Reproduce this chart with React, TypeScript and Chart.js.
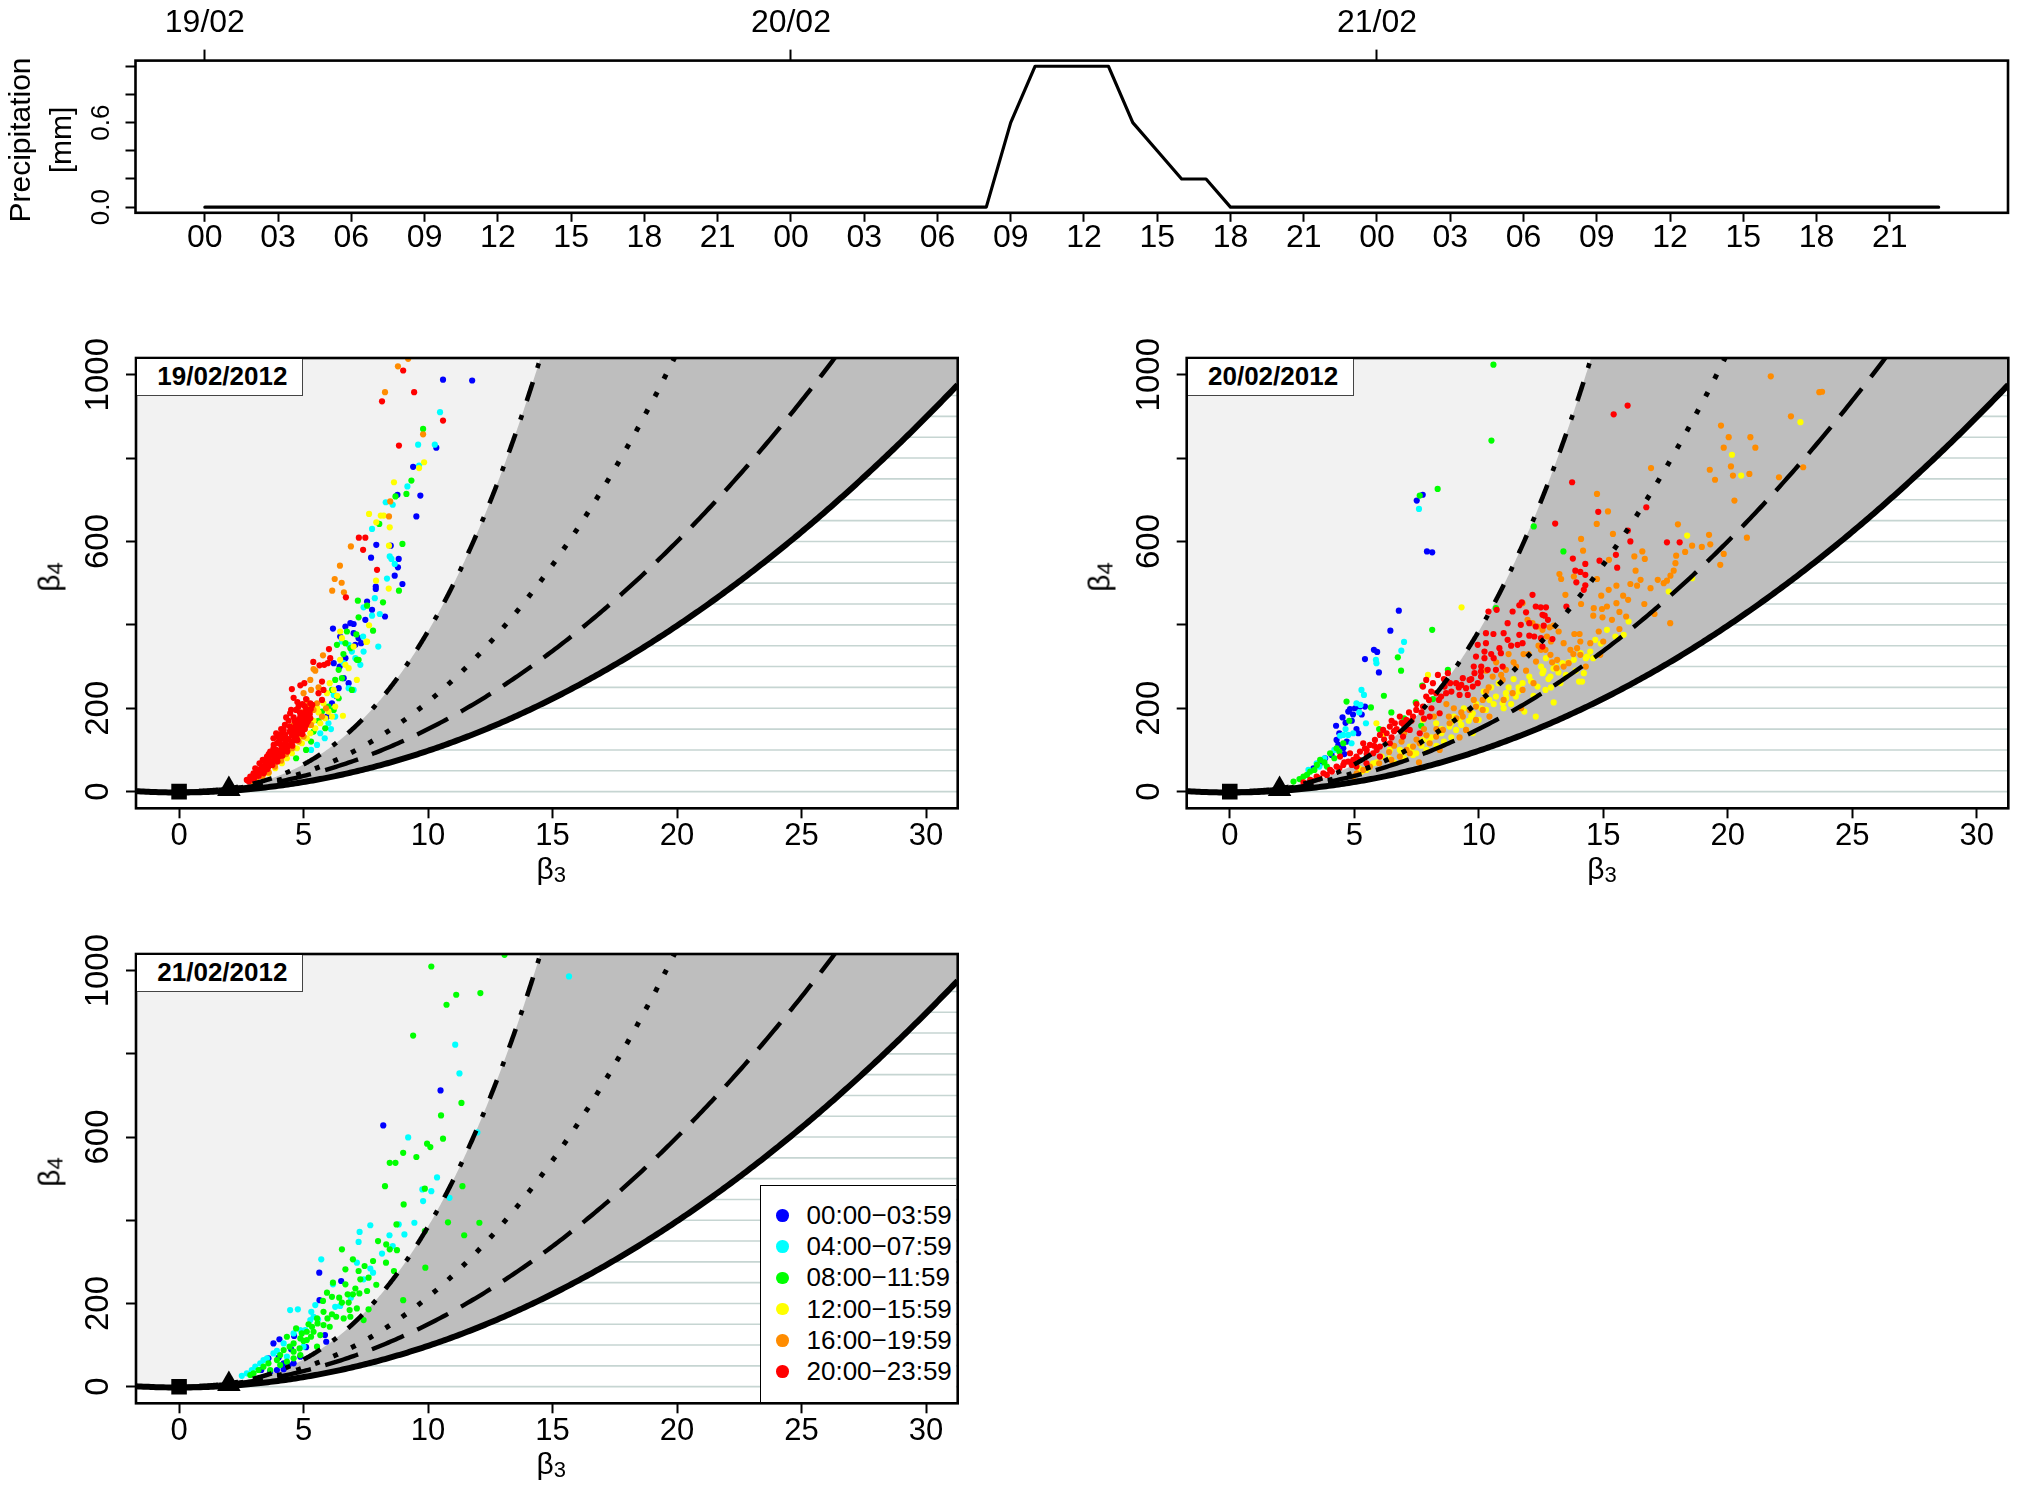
import React, { useEffect, useRef } from 'react';
import { Chart, registerables } from 'chart.js';

Chart.register(...registerables);

const FONT = "'Liberation Sans', Arial, Helvetica, sans-serif";

// ---------------- precipitation (hourly, from 19/02 00:00) ----------------
const precipHours = [
  0, 1, 2, 3, 4, 5, 6, 7, 8, 9, 10, 11, 12, 13, 14, 15, 16, 17, 18, 19, 20, 21, 22, 23,
  24, 25, 26, 27, 28, 29, 30, 31, 32, 33, 34, 35, 36, 37, 38, 39, 40, 41, 42, 43, 44, 45, 46, 47,
  48, 49, 50, 51, 52, 53, 54, 55, 56, 57, 58, 59, 60, 61, 62, 63, 64, 65, 66, 67, 68, 69, 70, 71,
];
const precipMm = [
  0, 0, 0, 0, 0, 0, 0, 0, 0, 0, 0, 0, 0, 0, 0, 0, 0, 0, 0, 0, 0, 0, 0, 0,
  0, 0, 0, 0, 0, 0, 0, 0, 0, 0.6, 1.0, 1.0, 1.0, 1.0, 0.6, 0.4, 0.2, 0.2, 0, 0, 0, 0, 0, 0,
  0, 0, 0, 0, 0, 0, 0, 0, 0, 0, 0, 0, 0, 0, 0, 0, 0, 0, 0, 0, 0, 0, 0, 0,
];
const hourTicks = [0, 3, 6, 9, 12, 15, 18, 21, 24, 27, 30, 33, 36, 39, 42, 45, 48, 51, 54, 57, 60, 63, 66, 69];
const hourTickLabels = ['00', '03', '06', '09', '12', '15', '18', '21', '00', '03', '06', '09', '12', '15', '18', '21', '00', '03', '06', '09', '12', '15', '18', '21'];
const dayTicks = [0, 24, 48];
const dayTickLabels = ['19/02', '20/02', '21/02'];
const precipTicks = [0, 0.2, 0.4, 0.6, 0.8, 1.0];
const precipTickLabels = ['0.0', '', '', '0.6', '', ''];
const PRECIP_X_RANGE = [-2.84, 73.84];
const PRECIP_Y_RANGE = [-0.04, 1.04];

// ---------------- beta3 / beta4 diagrams ----------------
const BETA3_RANGE = [-1.73, 31.27];
const BETA4_RANGE = [-40, 1040];
const beta3Ticks = [0, 5, 10, 15, 20, 25, 30];
const beta3TickLabels = ['0', '5', '10', '15', '20', '25', '30'];
const beta4Ticks = [0, 200, 400, 600, 800, 1000];
const beta4TickLabels = ['0', '200', '', '600', '', '1000'];
const hatchLevels = [0, 50, 100, 150, 200, 250, 300, 350, 400, 450, 500, 550, 600, 650, 700, 750, 800, 850, 900, 950, 1000];
const normalPoint = [0, 0];
const exponentialPoint = [2, 6];

const timeClasses = ['00:00\u221203:59', '04:00\u221207:59', '08:00\u221211:59', '12:00\u221215:59', '16:00\u221219:59', '20:00\u221223:59'];
const classColors = ['#0000FF', '#00FFFF', '#00FF00', '#FFFF00', '#FF8C00', '#FF0000'];

// 19/02/2012 : pairs (beta3, beta4)
const p1Blue = [6.21,308, 6.45,300, 6.68,320, 6.81,260, 6.61,272, 6.41,248, 6.14,212, 6.47,372, 7.01,380, 7.21,368, 7.08,352, 6.88,404, 7.01,402, 6.68,396, 6.18,391, 7.31,356, 7.48,412, 7.75,436, 8.27,420, 7.55,456, 7.9,492, 7.9,486, 8.97,498, 8.66,518, 8.82,558, 8.79,538, 7.71,561, 7.92,592, 8.5,590, 9.53,660, 8.77,712, 9.69,710, 9.4,779, 10.33,825, 10.6,988, 11.77,986, 6.3,230, 5.95,180];
const p1Cyan = [6.54,360, 6.81,352, 6.94,336, 7.08,320, 6.61,308, 6.81,248, 6.21,232, 6.0,164, 5.67,140, 5.54,112, 6.27,180, 7.28,304, 7.41,336, 7.01,244, 7.39,372, 7.41,442, 7.75,422, 8.06,426, 7.86,464, 8.35,511, 8.66,546, 8.46,564, 8.53,558, 8.3,694, 8.58,688, 7.75,630, 9.17,732, 9.6,832, 10.27,832, 9.64,782, 10.48,910, 8.0,348, 5.85,128, 6.1,150, 5.3,100];
const p1Green = [6.34,352, 6.68,356, 6.88,344, 7.14,316, 6.41,292, 6.54,272, 6.27,268, 6.14,244, 6.0,204, 6.21,196, 5.74,192, 6.41,224, 7.21,316, 6.94,244, 5.4,144, 5.87,152, 6.74,384, 7.12,377, 7.79,386, 7.21,418, 7.18,458, 7.55,446, 8.19,454, 8.83,482, 8.04,642, 8.97,594, 8.69,708, 9.13,714, 9.33,746, 9.8,870, 5.3,120, 5.1,100, 4.7,80, 6.6,330, 5.6,170];
const p1Yellow = [6.54,368, 7.01,348, 7.55,360, 6.47,316, 6.68,304, 6.81,296, 7.14,268, 6.21,244, 5.94,236, 5.8,212, 6.0,192, 6.27,204, 6.14,180, 5.87,176, 5.67,164, 5.47,152, 5.27,140, 5.13,128, 4.93,116, 4.73,104, 4.53,92, 4.33,80, 4.13,68, 3.86,56, 3.59,44, 6.58,182, 6.47,384, 7.63,399, 7.52,359, 7.91,506, 8.42,487, 8.43,590, 8.46,634, 7.92,646, 8.1,662, 8.22,662, 7.63,666, 8.63,742, 9.64,776, 9.84,790, 6.05,260, 5.6,190, 5.4,170, 5.05,150, 6.35,230, 5.55,200, 5.2,160, 4.85,130];
const p1Orange = [5.4,196, 5.13,220, 5.54,212, 5.74,180, 5.3,160, 5.0,132, 4.8,120, 4.55,104, 4.3,90, 4.1,74, 3.85,60, 3.6,46, 3.35,36, 3.1,28, 2.95,24, 4.73,196, 5.0,236, 5.27,268, 5.4,294, 5.47,290, 5.78,327, 5.3,244, 6.15,482, 6.25,510, 6.53,501, 6.62,478, 6.46,542, 6.9,588, 8.43,660, 8.48,696, 9.8,857, 8.27,958, 8.79,1020, 9.2,1038, 5.6,250, 5.9,200, 4.95,190, 4.6,160, 5.2,205];
const p1Red = [2.72,28, 2.86,36, 2.99,32, 2.99,44, 3.12,40, 3.19,52, 3.32,48, 3.39,60, 3.46,68, 3.59,60, 3.59,76, 3.73,72, 3.79,84, 3.86,92, 3.93,80, 3.99,98, 4.06,88, 4.13,108, 4.2,98, 4.26,116, 4.33,104, 4.40,126, 4.46,112, 4.53,136, 4.6,122, 4.66,144, 4.71,132, 4.77,152, 4.84,140, 4.89,160, 4.93,148, 5.0,170, 5.07,158, 5.11,180, 5.16,167, 5.21,188, 5.27,176, 5.29,198, 5.35,208, 4.73,164, 4.57,152, 4.44,144, 4.26,136, 4.06,124, 3.93,116, 3.79,104, 3.66,96, 3.53,84, 3.36,76, 3.23,68, 3.06,56, 5.0,188, 4.87,180, 4.80,172, 4.66,156, 3.79,128, 4.2,148, 4.46,188, 4.80,204, 5.07,192, 5.27,212, 5.74,264, 5.80,244, 5.97,308, 6.07,320, 4.53,246, 4.87,255, 5.03,260, 5.39,311, 5.64,303, 5.83,304, 6.02,342, 5.74,220, 5.60,236, 7.22,609, 7.48,609, 7.39,580, 7.95,532, 6.7,466, 8.15,936, 9.0,1010, 9.44,958, 8.83,830, 10.6,890, 2.8,24, 3.05,36, 3.15,46, 3.3,56, 3.45,52, 3.5,72, 3.65,66, 3.7,86, 3.85,78, 3.9,100, 4.0,84, 4.1,112, 4.15,96, 4.3,126, 4.35,110, 4.5,120, 4.55,150, 4.65,130, 4.75,142, 4.85,164, 4.95,176, 5.05,150, 5.15,196, 5.2,172, 3.95,132, 4.1,138, 4.25,160, 4.4,170, 4.6,178, 4.7,196, 4.95,210, 5.1,222, 3.0,28, 3.2,38, 3.4,44, 3.55,54, 3.75,64, 3.95,72, 4.15,86, 4.35,96, 4.55,110, 4.75,124, 4.95,138, 5.1,160, 5.25,186, 3.6,90, 3.8,112, 4.0,120, 4.2,128, 4.45,156, 4.65,168, 4.85,190, 5.05,205, 4.3,178, 4.5,196, 4.75,215, 4.6,225, 4.1,150, 3.9,140];

// 20/02/2012
const p2Blue = [7.75,712, 7.51,698, 7.92,576, 8.13,574, 6.79,434, 6.45,386, 5.79,340, 5.92,335, 5.43,318, 5.99,286, 4.27,158, 4.53,178, 4.76,192, 4.83,198, 5.03,200, 5.23,204, 5.43,204, 5.09,150, 5.16,140, 4.29,124, 4.36,112, 4.56,104, 4.09,88, 3.83,80, 3.63,68, 3.36,56, 4.7,120, 4.6,90, 4.9,170, 4.4,140, 4.95,185, 4.65,165, 5.3,185];
const p2Cyan = [7.6,678, 7.0,359, 6.89,338, 5.87,316, 5.89,308, 5.29,244, 5.39,232, 5.25,208, 5.09,212, 5.47,164, 4.96,140, 4.76,136, 4.56,136, 4.43,134, 4.89,116, 3.49,68, 3.16,52, 4.65,150, 3.8,80, 5.2,190, 4.2,100, 3.6,60];
const p2Green = [10.59,1024, 10.51,842, 8.35,726, 7.63,710, 8.13,388, 6.75,322, 6.88,290, 6.19,230, 5.67,202, 4.69,216, 4.8,170, 7.73,254, 8.16,222, 7.47,214, 7.69,158, 8.76,292, 12.21,636, 13.4,576, 2.56,24, 2.96,36, 3.23,48, 3.63,76, 4.03,92, 4.29,104, 4.56,116, 3.8,70, 3.4,52, 3.1,40, 6.49,190, 10.69,440, 4.2,80, 3.9,60, 2.8,30, 3.5,64, 4.4,96, 7.0,176, 6.0,150];
const p2Yellow = [9.31,442, 5.49,52, 5.76,68, 6.1,84, 6.43,100, 6.83,100, 7.23,108, 7.49,92, 7.76,124, 8.0,120, 8.29,164, 8.5,140, 8.83,156, 9.09,148, 9.23,172, 9.5,148, 9.76,188, 10.0,172, 10.29,196, 10.43,220, 10.69,228, 10.96,212, 11.09,236, 11.2,250, 11.49,228, 11.76,260, 11.83,192, 12.03,276, 12.29,180, 12.36,252, 12.56,284, 12.8,270, 13.09,300, 13.36,308, 13.6,310, 14.03,264, 14.09,332, 14.3,320, 7.96,280, 7.36,88, 5.3,48, 6.16,136, 5.89,164, 7.76,172, 9.76,140, 12.88,276, 12.68,244, 13.01,214, 13.28,260, 13.82,316, 14.15,264, 14.22,284, 14.35,324, 14.48,336, 14.68,364, 14.9,355, 15.15,388, 15.49,372, 15.82,376, 16.02,408, 17.63,480, 18.37,614, 20.17,808, 20.54,758, 22.92,886, 18.57,512, 10.5,250, 11.0,200, 11.6,240, 12.2,230, 12.9,250, 13.2,286, 13.9,290, 14.6,320, 9.9,210, 10.8,260, 9.0,180, 8.6,120, 6.6,70, 7.0,80, 7.9,100, 8.3,110, 11.4,270, 12.5,300, 9.4,200, 10.2,240, 11.3,210, 12.7,320, 13.5,280, 8.9,130, 9.6,170, 6.9,90, 7.3,96, 7.7,110, 8.1,130, 8.5,150, 8.9,165, 9.3,160, 9.7,180, 10.1,200, 10.6,210, 11.1,225, 11.6,250, 12.1,265, 12.6,290, 13.0,295, 6.4,80, 5.9,70, 5.6,58, 5.2,56];
const p2Orange = [11.76,452, 11.96,412, 12.16,404, 12.36,396, 12.56,388, 11.76,244, 11.36,236, 11.09,292, 10.96,268, 10.56,276, 10.3,240, 10.16,220, 9.89,204, 9.63,196, 9.36,180, 9.1,176, 8.83,164, 8.56,148, 8.29,132, 8.03,116, 7.63,116, 7.36,108, 7.23,92, 6.83,84, 6.49,76, 6.0,68, 5.63,60, 5.36,52, 5.1,44, 4.96,36, 9.49,148, 9.89,172, 10.43,180, 10.16,196, 9.23,130, 8.43,100, 7.6,70, 12.0,330, 12.3,312, 11.9,290, 12.5,340, 11.5,300, 10.7,310, 10.3,290, 11.2,330, 9.0,200, 8.7,210, 8.2,180, 7.8,150, 7.0,140, 6.6,110, 11.7,200, 12.2,260, 11.0,220, 21.73,996, 23.68,958, 23.79,959, 22.54,900, 19.73,878, 20.04,850, 20.91,850, 19.84,825, 21.11,825, 16.92,776, 19.28,772, 20.13,780, 20.21,758, 20.87,762, 19.49,748, 22.06,754, 23.03,778, 20.27,698, 14.75,714, 15.19,672, 14.74,642, 18.0,641, 15.39,618, 14.11,606, 14.19,578, 19.25,616, 19.3,593, 18.96,587, 18.57,590, 18.29,575, 20.77,609, 19.84,570, 19.7,544, 16.57,576, 16.67,558, 16.25,564, 15.23,556, 17.93,566, 17.9,548, 17.83,530, 17.7,518, 17.56,506, 17.43,500, 17.19,508, 16.9,488, 16.5,508, 16.36,494, 16.09,498, 15.53,494, 15.22,484, 14.92,470, 14.75,510, 13.48,472, 13.82,516, 13.24,522, 13.31,510, 14.11,450, 14.62,440, 14.95,438, 15.15,444, 15.53,452, 15.65,431, 15.92,420, 15.35,412, 14.97,418, 14.6,422, 14.82,384, 15.65,390, 17.06,426, 16.65,450, 17.69,404, 13.84,378, 14.05,378, 14.08,360, 14.48,356, 13.95,344, 13.68,340, 13.41,356, 13.21,384, 13.01,398, 12.85,394, 12.74,372, 12.68,340, 12.88,328, 13.15,316, 12.95,310, 13.41,300, 13.61,308, 14.08,328, 14.88,328, 13.12,296, 13.8,330, 14.3,300, 15.0,360, 16.0,460, 16.3,530, 15.8,470, 7.1,100, 7.5,125, 7.9,135, 8.3,150, 8.8,180, 9.3,190, 9.8,220, 10.4,250, 10.9,280, 11.4,310, 11.8,330, 12.4,350, 12.9,360, 6.9,120, 6.4,95];
const p2Red = [12.16,472, 11.63,447, 11.73,454, 12.29,444, 12.49,442, 12.56,424, 11.36,432, 11.16,404, 11.69,400, 12.03,404, 12.29,396, 12.23,372, 12.03,374, 11.63,376, 11.76,356, 11.56,352, 12.56,348, 12.5,368, 11.16,364, 10.83,344, 10.72,436, 10.39,432, 10.59,378, 10.29,356, 9.96,352, 10.23,336, 9.89,324, 10.23,320, 10.89,332, 10.96,300, 10.69,292, 10.36,292, 10.09,288, 9.83,284, 9.63,268, 9.36,272, 9.09,260, 8.85,260, 8.63,252, 8.76,284, 8.36,280, 9.49,248, 9.76,252, 9.96,260, 10.09,276, 9.56,232, 9.23,232, 8.69,236, 8.49,228, 8.29,236, 8.09,240, 7.89,228, 7.76,204, 7.49,196, 7.36,180, 7.09,172, 6.83,180, 6.63,164, 6.43,156, 6.16,148, 6.03,136, 5.83,124, 5.63,112, 5.43,104, 5.23,96, 5.09,84, 4.96,76, 4.76,72, 4.56,64, 4.29,60, 4.03,52, 3.76,44, 3.49,36, 3.23,28, 2.96,22, 7.23,148, 8.03,180, 8.43,188, 7.63,140, 6.96,132, 6.43,116, 6.03,108, 5.76,92, 5.36,116, 4.83,92, 4.43,84, 5.09,60, 5.49,68, 6.03,84, 7.76,252, 7.89,268, 8.16,260, 10.29,380, 6.3,140, 6.7,150, 7.0,160, 7.2,190, 6.5,170, 7.5,210, 8.0,220, 8.6,270, 9.2,250, 9.8,300, 10.5,330, 11.0,380, 11.9,430, 5.9,100, 5.5,90, 5.2,76, 4.9,64, 15.42,905, 15.98,926, 13.75,742, 13.07,643, 14.8,671, 15.99,626, 16.09,600, 17.56,598, 18.07,598, 13.78,559, 14.85,554, 15.51,568, 15.56,537, 14.28,546, 13.88,530, 14.08,527, 14.28,520, 13.92,502, 14.28,495, 14.22,484, 13.52,444, 12.7,442, 12.65,422, 12.78,412, 12.61,398, 12.96,366, 16.73,682, 5.5,100, 5.8,110, 6.2,125, 6.6,145, 6.9,165, 7.3,170, 7.7,190, 8.1,200, 8.4,220, 8.9,240, 9.3,256, 9.7,270, 10.1,300, 10.6,320, 11.3,350, 4.6,70, 4.4,56, 4.1,48, 3.9,40, 3.6,32, 3.3,26, 6.5,130, 7.1,150, 7.8,175];

// 21/02/2012
const p3Blue = [10.5,712, 8.2,628, 5.63,274, 6.51,254, 5.64,208, 5.86,124, 5.91,108, 3.79,104, 4.03,114, 4.62,122, 3.59,68, 4.2,56, 4.4,52, 4.6,56, 4.87,72, 4.2,42, 3.93,40, 3.66,36, 4.5,90, 4.0,70, 3.3,40, 5.1,95];
const p3Cyan = [11.09,822, 11.26,753, 9.2,599, 11.98,611, 10.36,503, 10.13,470, 9.77,474, 9.8,446, 10.86,454, 9.05,366, 9.45,394, 8.82,390, 7.25,372, 7.68,388, 8.45,364, 7.21,348, 8.15,320, 8.58,338, 7.14,298, 7.68,284, 7.79,274, 7.41,258, 5.71,306, 6.18,246, 6.9,214, 6.47,194, 6.27,192, 5.47,196, 5.31,180, 5.4,168, 5.58,162, 5.27,160, 4.46,184, 4.77,186, 5.07,136, 4.87,136, 4.6,128, 4.2,104, 3.93,86, 3.79,80, 3.53,68, 3.39,64, 3.26,56, 3.06,48, 2.92,40, 2.72,32, 2.52,26, 4.33,72, 5.0,96, 15.66,986];
const p3Green = [10.13,1010, 11.13,942, 10.74,918, 12.1,946, 9.4,844, 11.34,682, 10.52,652, 10.6,596, 9.96,584, 10.09,576, 9.0,562, 9.53,552, 8.46,538, 8.69,538, 8.27,482, 9.87,476, 11.38,482, 9.02,438, 10.8,395, 12.06,394, 8.73,390, 9.87,374, 11.45,364, 7.99,350, 8.32,342, 8.46,330, 8.75,328, 6.54,330, 6.98,306, 7.79,302, 8.31,298, 6.68,282, 7.45,290, 7.21,278, 7.28,258, 7.61,262, 8.63,278, 9.89,286, 7.92,245, 6.18,250, 6.68,246, 7.08,236, 7.55,230, 7.24,224, 5.94,226, 6.14,216, 6.43,214, 6.77,222, 6.98,222, 6.54,202, 6.81,202, 5.78,206, 9.0,208, 7.61,186, 6.85,184, 7.14,188, 5.8,180, 6.14,174, 5.96,164, 6.31,168, 6.61,164, 6.88,168, 7.41,160, 5.54,164, 5.56,152, 5.8,148, 6.05,144, 5.34,144, 5.13,132, 5.4,132, 5.67,124, 4.93,128, 4.87,116, 5.13,112, 5.54,96, 4.6,104, 4.33,120, 4.44,96, 4.2,88, 4.06,76, 4.6,84, 4.84,92, 3.93,64, 3.59,56, 3.39,48, 3.19,40, 2.99,32, 2.86,28, 3.66,40, 4.06,52, 4.33,60, 4.6,68, 4.87,76, 13.07,1038, 5.2,150, 4.7,140, 5.0,110, 5.3,120];
const p3Yellow = [];
const p3Orange = [];
const p3Red = [];

const day19 = [p1Blue, p1Cyan, p1Green, p1Yellow, p1Orange, p1Red];
const day20 = [p2Blue, p2Cyan, p2Green, p2Yellow, p2Orange, p2Red];
const day21 = [p3Blue, p3Cyan, p3Green, p3Yellow, p3Orange, p3Red];

// ---------------- theoretical reference curves (moment relations) ----------------
function gammaFn(z: number): number {
  if (z < 0.5) return Math.PI / (Math.sin(Math.PI * z) * gammaFn(1 - z));
  const c = [0.99999999999980993, 676.5203681218851, -1259.1392167224028, 771.32342877765313,
    -176.61502916214059, 12.507343278686905, -0.13857109526572012, 9.9843695780195716e-6, 1.5056327351493116e-7];
  const zz = z - 1;
  let x = c[0];
  for (let i = 1; i < 9; i++) x += c[i] / (zz + i);
  const t = zz + 7.5;
  return Math.sqrt(2 * Math.PI) * Math.pow(t, zz + 0.5) * Math.exp(-t) * x;
}
// lower limit of (excess) kurtosis: beta4 = beta3^2 - 2
function lowerBoundCurve(x0: number, x1: number) {
  const pts: any[] = [];
  const n = 330;
  for (let i = 0; i <= n; i++) { const x = x0 + (x1 - x0) * i / n; pts.push({ x, y: x * x - 2 }); }
  return pts;
}
// gamma family: beta4 = 1.5 beta3^2
function gammaCurve() {
  const pts: any[] = [];
  for (let i = 0; i <= 280; i++) { const x = i * 0.1; pts.push({ x, y: 1.5 * x * x }); }
  return pts;
}
// lognormal family, parameter w = exp(sigma^2)
function lognormalCurve(yCap: number) {
  const pts: any[] = [];
  for (let i = 0; i <= 1000; i++) {
    const w = 1 + i * 0.005;
    const x = (w + 2) * Math.sqrt(w - 1);
    const y = w ** 4 + 2 * w ** 3 + 3 * w ** 2 - 6;
    pts.push({ x, y });
    if (y > yCap) break;
  }
  return pts;
}
// Weibull family, shape parameter k
function weibullCurve(yCap: number) {
  const pts: any[] = [];
  for (let k = 3.6; k > 0.25; k *= 0.985) {
    const g1 = gammaFn(1 + 1 / k), g2 = gammaFn(1 + 2 / k), g3 = gammaFn(1 + 3 / k), g4 = gammaFn(1 + 4 / k);
    const v = g2 - g1 * g1;
    const skew = (g3 - 3 * g1 * g2 + 2 * g1 ** 3) / Math.pow(v, 1.5);
    const kurt = (g4 - 4 * g1 * g3 + 6 * g1 * g1 * g2 - 3 * g1 ** 4) / (v * v) - 3;
    if (skew < 0) continue;
    pts.push({ x: skew, y: kurt });
    if (kurt > yCap) break;
  }
  return pts;
}

// ---------------- layout (page pixels) ----------------
type Area = { left: number; top: number; right: number; bottom: number };
const PRECIP_AREA: Area = { left: 135.5, top: 60.6, right: 2008, bottom: 212.8 };
const P1: Area = { left: 136, top: 358, right: 957.7, bottom: 808.3 };
const P2: Area = { left: 1186.7, top: 358, right: 2008.3, bottom: 808.3 };
const P3: Area = { left: 136, top: 954, right: 957.7, bottom: 1403.3 };

function makeBox(area: Area, m: { l: number; t: number; r: number; b: number }) {
  const cl = Math.floor(area.left - m.l);
  const ct = Math.floor(area.top - m.t);
  const cr = Math.ceil(area.right + m.r);
  const cb = Math.ceil(area.bottom + m.b);
  return { cl, ct, w: cr - cl, h: cb - ct, yW: area.left - cl, topH: area.top - ct, padR: cr - area.right, botH: cb - area.bottom };
}

const framePlugin = {
  id: 'frame',
  beforeDatasetsDraw(chart: any, _a: any, opts: any) {
    if (!opts || !opts.bg) return;
    const { ctx, chartArea: a } = chart;
    ctx.save();
    ctx.fillStyle = opts.bg;
    ctx.fillRect(a.left, a.top, a.right - a.left, a.bottom - a.top);
    ctx.restore();
  },
  afterDatasetsDraw(chart: any, _a: any, opts: any) {
    const { ctx, chartArea: a } = chart;
    ctx.save();
    ctx.strokeStyle = '#000';
    ctx.lineWidth = (opts && opts.lw) || 2.6;
    ctx.strokeRect(a.left, a.top, a.right - a.left, a.bottom - a.top);
    ctx.restore();
  },
};

const tickGrid = (len: number) => ({
  display: true, drawOnChartArea: false, drawTicks: true, tickLength: len, tickWidth: 2, tickColor: '#000', color: '#000', lineWidth: 1,
});

const toPts = (flat: number[]) => {
  const out: any[] = [];
  for (let i = 0; i + 1 < flat.length; i += 2) out.push({ x: flat[i], y: flat[i + 1] });
  return out;
};

function precipConfig(box: any) {
  return {
    type: 'scatter',
    data: {
      datasets: [{
        data: precipHours.map((h, i) => ({ x: h, y: precipMm[i] })),
        showLine: true, fill: false, borderColor: '#000', backgroundColor: '#000', borderWidth: 3.2,
        borderCapStyle: 'round', borderJoinStyle: 'round', pointRadius: 0, pointHitRadius: 0, clip: 0,
      }],
    },
    options: {
      responsive: false, maintainAspectRatio: false, animation: false, devicePixelRatio: 1, events: [],
      layout: { padding: { left: 0, top: 0, right: box.padR, bottom: 0 } },
      plugins: { legend: { display: false }, tooltip: { enabled: false }, frame: { lw: 2.6 } },
      scales: {
        x: {
          type: 'linear', position: 'bottom', min: PRECIP_X_RANGE[0], max: PRECIP_X_RANGE[1], bounds: 'data',
          afterBuildTicks: (s: any) => { s.ticks = hourTicks.map((v) => ({ value: v })); },
          afterFit: (s: any) => { s.height = box.botH; },
          ticks: { autoSkip: false, maxRotation: 0, minRotation: 0, padding: 0.2, color: '#000', font: { family: FONT, size: 32, lineHeight: 1 }, callback: (_v: any, i: number) => hourTickLabels[i] },
          grid: tickGrid(9), border: { display: false },
        },
        x2: {
          type: 'linear', axis: 'x', position: 'top', min: PRECIP_X_RANGE[0], max: PRECIP_X_RANGE[1], bounds: 'data',
          afterBuildTicks: (s: any) => { s.ticks = dayTicks.map((v) => ({ value: v })); },
          afterFit: (s: any) => { s.height = box.topH; },
          ticks: { autoSkip: false, maxRotation: 0, minRotation: 0, padding: 10.3, color: '#000', font: { family: FONT, size: 32, lineHeight: 1 }, callback: (_v: any, i: number) => dayTickLabels[i] },
          grid: tickGrid(11), border: { display: false },
        },
        y: {
          type: 'linear', position: 'left', min: PRECIP_Y_RANGE[0], max: PRECIP_Y_RANGE[1], bounds: 'data',
          afterBuildTicks: (s: any) => { s.ticks = precipTicks.map((v) => ({ value: v })); },
          afterFit: (s: any) => { s.width = box.yW; },
          ticks: { autoSkip: false, minRotation: 90, maxRotation: 90, crossAlign: 'center', padding: 5.8, color: '#000', font: { family: FONT, size: 26, lineHeight: 1 }, callback: (_v: any, i: number) => precipTickLabels[i] },
          grid: tickGrid(10), border: { display: false },
        },
      },
    },
    plugins: [framePlugin],
  };
}

function scatterConfig(box: any, series: number[][]) {
  const [xMin, xMax] = BETA3_RANGE;
  const [yMin] = BETA4_RANGE;
  const base = yMin - 30;
  const lb = lowerBoundCurve(xMin, xMax);
  const ln = lognormalCurve(1100);
  const yTop = ln[ln.length - 1].y;
  const grayPoly = [{ x: xMin, y: base }, { x: 0, y: base }, ...ln, { x: xMax, y: yTop }, { x: xMax, y: base }];
  const whitePoly = [{ x: xMin, y: base }, ...lb, { x: xMax, y: base }];
  const hatch: any[] = [];
  for (const h of hatchLevels) {
    const x0 = Math.sqrt(h + 2);
    if (x0 >= xMax) continue;
    hatch.push({ x: x0, y: h }, { x: xMax, y: h }, { x: null, y: null });
  }
  const poly = (data: any[], color: string, order: number) => ({
    data, showLine: true, fill: 'shape', backgroundColor: color, borderColor: 'rgba(0,0,0,0)', borderWidth: 0,
    borderDash: [1, 0], pointRadius: 0, pointHitRadius: 0, order, clip: 0,
  });
  const curve = (data: any[], width: number, dash: number[], order: number) => ({
    data, showLine: true, fill: false, borderColor: '#000', backgroundColor: '#000', borderWidth: width, borderDash: dash,
    borderCapStyle: 'butt', borderJoinStyle: 'round', pointRadius: 0, pointHitRadius: 0, order, clip: 0,
  });
  const datasets: any[] = [
    poly(grayPoly, '#BEBEBE', 20),
    poly(whitePoly, '#FFFFFF', 19),
    { data: hatch, showLine: true, fill: false, spanGaps: false, borderColor: '#C6D5D2', borderWidth: 1.6, pointRadius: 0, pointHitRadius: 0, order: 18, clip: 0 },
    ...series.map((s, i) => ({
      data: toPts(s), showLine: false, backgroundColor: classColors[i], borderColor: classColors[i], borderWidth: 0,
      pointRadius: 3.1, pointHitRadius: 0, order: 17 - i, clip: 0,
    })),
    curve(lb, 6, [], 6),
    curve(gammaCurve(), 4.4, [34.6, 14.8], 5),
    curve(weibullCurve(1100), 5, [4.95, 14.85], 4),
    curve(ln, 4.6, [4.95, 14.85, 19.8, 14.85], 3),
    { data: [{ x: normalPoint[0], y: normalPoint[1] }], showLine: false, pointStyle: 'rect', pointRadius: 11, backgroundColor: '#000', borderWidth: 0, order: 2, clip: 0 },
    { data: [{ x: exponentialPoint[0], y: exponentialPoint[1] }], showLine: false, pointStyle: 'triangle', pointRadius: 13.6, backgroundColor: '#000', borderWidth: 0, order: 1, clip: 0 },
  ];
  return {
    type: 'scatter',
    data: { datasets },
    options: {
      responsive: false, maintainAspectRatio: false, animation: false, devicePixelRatio: 1, events: [],
      layout: { padding: { left: 0, top: box.topH, right: box.padR, bottom: 0 } },
      plugins: { legend: { display: false }, tooltip: { enabled: false }, frame: { bg: '#F2F2F2', lw: 2.6 } },
      scales: {
        x: {
          type: 'linear', position: 'bottom', min: BETA3_RANGE[0], max: BETA3_RANGE[1], bounds: 'data',
          afterBuildTicks: (s: any) => { s.ticks = beta3Ticks.map((v) => ({ value: v })); },
          afterFit: (s: any) => { s.height = box.botH; },
          ticks: { autoSkip: false, maxRotation: 0, minRotation: 0, padding: 2.7, color: '#000', font: { family: FONT, size: 31, lineHeight: 1 }, callback: (_v: any, i: number) => beta3TickLabels[i] },
          grid: tickGrid(10), border: { display: false },
        },
        y: {
          type: 'linear', position: 'left', min: BETA4_RANGE[0], max: BETA4_RANGE[1], bounds: 'data',
          afterBuildTicks: (s: any) => { s.ticks = beta4Ticks.map((v) => ({ value: v })); },
          afterFit: (s: any) => { s.width = box.yW; },
          ticks: { autoSkip: false, minRotation: 90, maxRotation: 90, crossAlign: 'center', padding: -9.9, color: '#000', font: { family: FONT, size: 33, lineHeight: 1 }, callback: (_v: any, i: number) => beta4TickLabels[i] },
          grid: tickGrid(10), border: { display: false },
        },
      },
    },
    plugins: [framePlugin],
  };
}

function ChartCanvas({ box, make }: { box: any; make: () => any }) {
  const ref = useRef<HTMLCanvasElement | null>(null);
  useEffect(() => {
    const chart = new Chart(ref.current as HTMLCanvasElement, make());
    return () => chart.destroy();
  }, []);
  return (
    <canvas ref={ref} width={box.w} height={box.h}
      style={{ position: 'absolute', left: box.cl, top: box.ct, width: box.w, height: box.h }} />
  );
}

const Beta = ({ sub }: { sub: string }) => (
  <span>{'\u03B2'}<span style={{ fontSize: 22, position: 'relative', top: 3 }}>{sub}</span></span>
);

function PrecipPanel() {
  const box = makeBox(PRECIP_AREA, { l: 135.5, t: 60.6, r: 14, b: 87 });
  const cy = (PRECIP_AREA.top + PRECIP_AREA.bottom) / 2 + 3;
  const rot = (cx: number, text: string) => (
    <div style={{ position: 'absolute', left: cx, top: cy, transform: 'translate(-50%, -50%) rotate(-90deg)', fontSize: 30, lineHeight: '36px', whiteSpace: 'nowrap' }}>{text}</div>
  );
  return (
    <>
      <ChartCanvas box={box} make={() => precipConfig(box)} />
      {rot(19.7, 'Precipitation')}
      {rot(61, '[mm]')}
    </>
  );
}

function Legend({ area }: { area: Area }) {
  const left = 760, top = 1185;
  return (
    <div style={{ position: 'absolute', left, top, width: area.right - 1.3 - left, height: area.bottom - 1.3 - top, boxSizing: 'border-box', borderLeft: '1.5px solid #000', borderTop: '1.5px solid #000', background: '#fff' }}>
      {timeClasses.map((t, i) => (
        <div key={t} style={{ position: 'absolute', left: 0, top: 31 + 31.2 * i - 15.6 - 1.5, height: 31.2, width: '100%' }}>
          <div style={{ position: 'absolute', left: 23 - 6.3 - 1.5, top: 15.6 - 6.3, width: 12.6, height: 12.6, borderRadius: '50%', background: classColors[i] }} />
          <div style={{ position: 'absolute', left: 47 - 1.5, top: 0, fontSize: 26, lineHeight: '31.2px', whiteSpace: 'nowrap' }}>{t}</div>
        </div>
      ))}
    </div>
  );
}

function ScatterPanel({ area, date, series, legend }: { area: Area; date: string; series: number[][]; legend?: boolean }) {
  const box = makeBox(area, { l: 136, t: 40, r: 20, b: 60 });
  const cx = (area.left + area.right) / 2;
  const cy = (area.top + area.bottom) / 2;
  return (
    <>
      <ChartCanvas box={box} make={() => scatterConfig(box, series)} />
      <div style={{ position: 'absolute', left: cx + 4.5, top: area.bottom + 42.7, transform: 'translateX(-50%)', fontSize: 30, lineHeight: '36px', whiteSpace: 'nowrap' }}>
        <Beta sub="3" />
      </div>
      <div style={{ position: 'absolute', left: area.left - 85.5, top: cy - 6.5, transform: 'translate(-50%, -50%) rotate(-90deg)', fontSize: 30, lineHeight: '36px', whiteSpace: 'nowrap' }}>
        <Beta sub="4" />
      </div>
      <div style={{ position: 'absolute', left: area.left + 1.3, top: area.top + 1.3, width: 167 - 1.3, height: 38 - 1.3, boxSizing: 'border-box', borderRight: '1.5px solid #444', borderBottom: '1.5px solid #444', background: '#fff', fontWeight: 'bold', fontSize: 26, display: 'flex', alignItems: 'center', paddingLeft: 20, paddingBottom: 2, whiteSpace: 'nowrap' }}>
        {date}
      </div>
      {legend ? <Legend area={area} /> : null}
    </>
  );
}

export default function App() {
  return (
    <div style={{ position: 'absolute', left: 0, top: 0, width: 2022, height: 1495, overflow: 'hidden', background: '#fff', fontFamily: FONT, color: '#000' }}>
      <PrecipPanel />
      <ScatterPanel area={P1} date="19/02/2012" series={day19} />
      <ScatterPanel area={P2} date="20/02/2012" series={day20} />
      <ScatterPanel area={P3} date="21/02/2012" series={day21} legend />
    </div>
  );
}
